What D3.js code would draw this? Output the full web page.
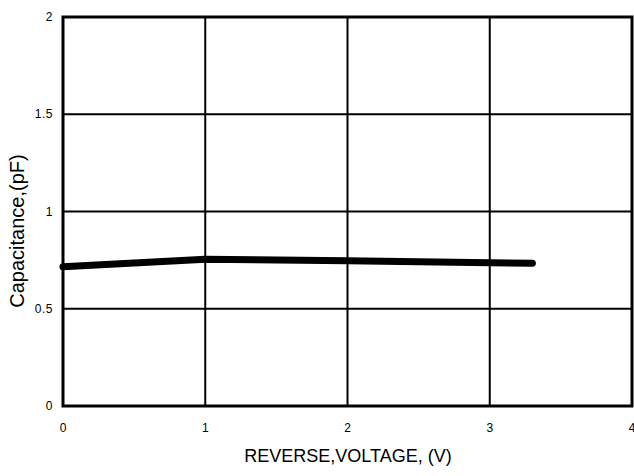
<!DOCTYPE html>
<html><head><meta charset="utf-8">
<script src="https://cdn.jsdelivr.net/npm/d3@7"></script>
<style>body{margin:0;background:#fff}svg{display:block}text{font-family:"Liberation Sans",Arial,sans-serif;fill:#000}</style>
</head><body>
<script>
const voltage = [0, 1, 2, 3, 3.3];
const capacitance = [0.716, 0.755, 0.747, 0.737, 0.734];
const xTicks = [0, 1, 2, 3, 4];
const yTicks = [0, 0.5, 1, 1.5, 2];
const xTitle = "REVERSE,VOLTAGE, (V)";
const yTitle = "Capacitance,(pF)";

const W = 634, H = 476;
const m = {l: 63, r: 2, t: 17, b: 70};
const svg = d3.select("body").append("svg").attr("width", W).attr("height", H);
const x = d3.scaleLinear().domain([0, 4]).range([m.l, W - m.r]);
const y = d3.scaleLinear().domain([0, 2]).range([H - m.b, m.t]);

// grid
svg.append("g").selectAll("line").data(xTicks.slice(1, -1)).join("line")
  .attr("x1", d => x(d)).attr("x2", d => x(d)).attr("y1", y(0)).attr("y2", y(2))
  .attr("stroke", "#000").attr("stroke-width", 2);
svg.append("g").selectAll("line").data(yTicks.slice(1, -1)).join("line")
  .attr("y1", d => y(d)).attr("y2", d => y(d)).attr("x1", x(0)).attr("x2", x(4))
  .attr("stroke", "#000").attr("stroke-width", 2);
// frame
svg.append("rect").attr("x", x(0)).attr("y", y(2)).attr("width", x(4) - x(0)).attr("height", y(0) - y(2))
  .attr("fill", "none").attr("stroke", "#000").attr("stroke-width", 3);

// tick labels
svg.append("g").selectAll("text").data(yTicks).join("text")
  .attr("x", x(0) - 10).attr("y", d => y(d)).attr("dy", "0.35em")
  .attr("text-anchor", "end").attr("font-size", 12).attr("letter-spacing", 0.5).text(d => d);
svg.append("g").selectAll("text").data(xTicks).join("text")
  .attr("x", d => x(d)).attr("y", y(0) + 26)
  .attr("text-anchor", "middle").attr("font-size", 12).text(d => d);

// curve
svg.append("path").datum(voltage.map((v, i) => [v, capacitance[i]]))
  .attr("d", d3.line().x(d => x(d[0])).y(d => y(d[1])))
  .attr("fill", "none").attr("stroke", "#000").attr("stroke-width", 7)
  .attr("stroke-linecap", "round").attr("stroke-linejoin", "round");

// titles
svg.append("text").attr("x", 348).attr("y", 462)
  .attr("text-anchor", "middle").attr("font-size", 18).text(xTitle);
svg.append("text").attr("transform", `translate(24,231) rotate(-90)`)
  .attr("text-anchor", "middle").attr("font-size", 20).text(yTitle);
</script>
</body></html>
